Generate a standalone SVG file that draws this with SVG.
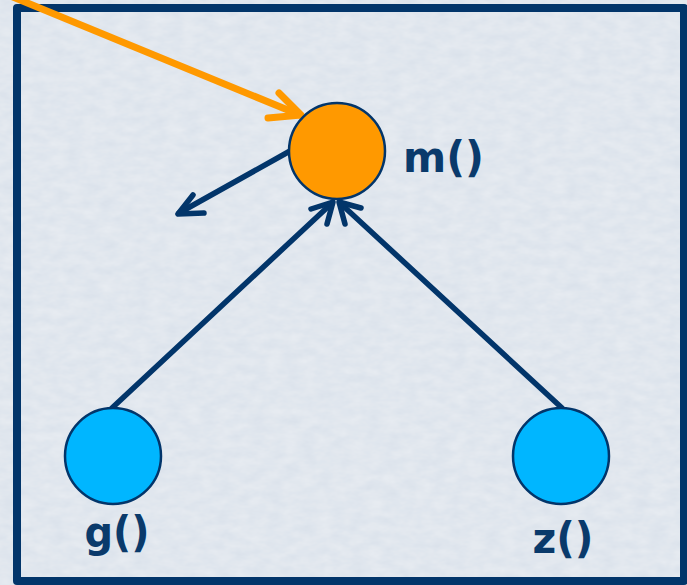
<svg xmlns="http://www.w3.org/2000/svg" width="687" height="585" viewBox="0 0 687 585">
  <defs>
    <filter id="paper" x="0" y="0" width="100%" height="100%">
      <feTurbulence type="fractalNoise" baseFrequency="0.06 0.12" numOctaves="3" seed="4" result="n"/>
      <feColorMatrix in="n" type="matrix" values="0 0 0 0 1  0 0 0 0 1  0 0 0 0 1  0 0 0 0.4 -0.05" result="w"/>
      <feComposite in="w" in2="SourceGraphic" operator="atop"/>
    </filter>
    <style>
      .frame { fill: none; stroke: #02356a; stroke-width: 8; stroke-linejoin: round; }
      .node-m { fill: #ff9900; stroke: #02356a; stroke-width: 2.5; }
      .node-b { fill: #00b6ff; stroke: #02356a; stroke-width: 2.5; }
      .lbl { font-family: "DejaVu Sans", Verdana, sans-serif; font-weight: bold; font-size: 43px; fill: #0a3a6b; }
      .nav { fill: none; stroke: #02356a; stroke-width: 5.5; stroke-linecap: round; stroke-linejoin: round; }
      .org { fill: none; stroke: #ff9900; stroke-width: 7; stroke-linecap: round; stroke-linejoin: round; }
    </style>
  </defs>
  <rect x="0" y="0" width="687" height="585" fill="#dbe2eb" filter="url(#paper)"/>
  <rect class="frame" x="17" y="8" width="667" height="573"/>

  <g id="connectors">
    <path class="org" d="M8,-5 L300,115"/>
    <path class="org" d="M279,93 L301,115 L268,118"/>
    <path class="nav" d="M290,151 L179,213"/>
    <path class="nav" d="M193,195 L178,214 L204,213"/>
    <path class="nav" d="M112,408 L332,203"/>
    <path class="nav" d="M311,209 L333,202 L327,224"/>
    <path class="nav" d="M562,408 L340,203"/>
    <path class="nav" d="M361,208 L339,202 L345,224"/>
  </g>

  <g id="node-m">
    <circle class="node-m" cx="337" cy="151" r="48"/>
    <text class="lbl" x="403" y="172" textLength="81" lengthAdjust="spacingAndGlyphs">m()</text>
  </g>
  <g id="node-g">
    <circle class="node-b" cx="113" cy="456" r="48"/>
    <text class="lbl" x="84.5" y="547" textLength="65" lengthAdjust="spacingAndGlyphs">g()</text>
  </g>
  <g id="node-z">
    <circle class="node-b" cx="561" cy="456" r="48"/>
    <text class="lbl" x="532.5" y="553" textLength="61" lengthAdjust="spacingAndGlyphs">z()</text>
  </g>
</svg>
